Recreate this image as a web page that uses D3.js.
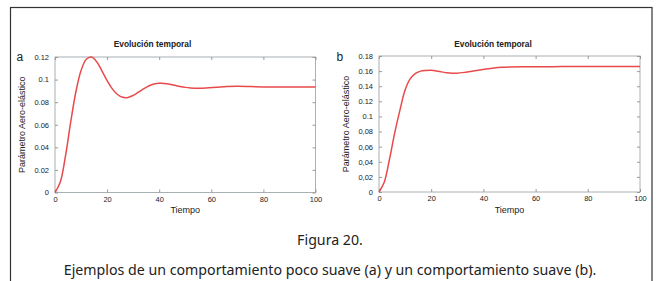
<!DOCTYPE html>
<html>
<head>
<meta charset="utf-8">
<script src="https://cdn.jsdelivr.net/npm/d3@7"></script>
<style>
  body { margin: 0; background: #fff; }
  svg { display: block; }
  .tick text { font-family: "Liberation Sans", Arial, sans-serif; font-size: 7.5px; fill: #222; }
  .tick line { stroke: #999; }
</style>
</head>
<body>
<svg width="659" height="281"></svg>
<script>
// panel a: poco suave
var tiempoA = [0, 2, 4, 6, 8, 10, 12, 14, 16, 18, 20, 22, 24, 26, 28, 30, 32, 34, 36, 38, 40, 42, 44, 46, 48, 50, 52, 55, 58, 62, 66, 70, 75, 80, 90, 100];
var valoresA = [0, 0.009, 0.032, 0.062, 0.089, 0.108, 0.118, 0.120, 0.1158, 0.1078, 0.0990, 0.0918, 0.0868, 0.0843, 0.0842, 0.0860, 0.0888, 0.0918, 0.0943, 0.0960, 0.0967, 0.0966, 0.0959, 0.0949, 0.0939, 0.0931, 0.0926, 0.0924, 0.0926, 0.0932, 0.0938, 0.0940, 0.0938, 0.0935, 0.0934, 0.0935];
// panel b: suave
var tiempoB = [0, 2, 4, 6, 8, 10, 12, 14, 16, 18, 20, 22, 24, 26, 28, 30, 32, 35, 38, 41, 44, 47, 50, 55, 60, 70, 80, 90, 100];
var valoresB = [0, 0.013, 0.043, 0.078, 0.108, 0.135, 0.150, 0.1570, 0.1600, 0.1608, 0.1610, 0.1603, 0.1590, 0.1578, 0.1572, 0.1573, 0.1580, 0.1595, 0.1612, 0.1628, 0.1642, 0.1652, 0.1656, 0.1658, 0.1658, 0.1660, 0.1662, 0.1662, 0.1662];

var xTicks = [0, 20, 40, 60, 80, 100];
var yTicksA = [0, 0.02, 0.04, 0.06, 0.08, 0.1, 0.12];
var yLabelsA = ["0", "0.02", "0.04", "0.06", "0.08", "0.1", "0.12"];
var yTicksB = [0, 0.02, 0.04, 0.06, 0.08, 0.1, 0.12, 0.14, 0.16, 0.18];
var yLabelsB = ["0", "0,02", "0,04", "0,06", "0,08", "0.1", "0.12", "0.14", "0.16", "0.18"];

var svg = d3.select("svg");

// outer frame (open at bottom, runs off the picture)
svg.append("rect")
   .attr("x", 10.5).attr("y", 7.5)
   .attr("width", 641.5).attr("height", 300)
   .attr("fill", "none").attr("stroke", "#333").attr("stroke-width", 1.2);

function panel(letra, tiempo, valores, yTicks, yLabels, xr, yr, yMax, titleX, letterX, ylabX) {
  var x = d3.scaleLinear().domain([0, 100]).range(xr);
  var y = d3.scaleLinear().domain([0, yMax]).range(yr);
  var g = svg.append("g");

  g.append("rect")
   .attr("x", xr[0]).attr("y", yr[1])
   .attr("width", xr[1] - xr[0]).attr("height", yr[0] - yr[1])
   .attr("fill", "#fff").attr("stroke", "#a9b0b3").attr("stroke-width", 1);

  var fmt = function(d) { return yLabels[yTicks.indexOf(d)]; };

  g.append("g").attr("transform", "translate(0," + yr[0] + ")")
   .call(d3.axisBottom(x).tickValues(xTicks).tickSize(-3).tickPadding(4).tickFormat(d3.format("d")));
  g.append("g").attr("transform", "translate(0," + yr[1] + ")")
   .call(d3.axisTop(x).tickValues(xTicks).tickSize(-3).tickFormat(""));
  g.append("g").attr("transform", "translate(" + xr[0] + ",0)")
   .call(d3.axisLeft(y).tickValues(yTicks).tickSize(-3).tickPadding(6).tickFormat(fmt));
  g.append("g").attr("transform", "translate(" + xr[1] + ",0)")
   .call(d3.axisRight(y).tickValues(yTicks).tickSize(-3).tickFormat(""));
  g.selectAll(".domain").remove();

  var line = d3.line()
    .x(function(d, i) { return x(tiempo[i]); })
    .y(function(d) { return y(d); })
    .curve(d3.curveCatmullRom);

  g.append("path")
   .datum(valores)
   .attr("d", line)
   .attr("fill", "none")
   .attr("stroke", "#e84a4c")
   .attr("stroke-width", 1.5);

  g.append("text")
   .attr("x", titleX).attr("y", 47)
   .attr("text-anchor", "middle")
   .style("font", "bold 8.4px 'Liberation Sans', Arial, sans-serif")
   .attr("fill", "#222")
   .text("Evolución temporal");

  g.append("text")
   .attr("x", letterX).attr("y", 61)
   .style("font", "12px 'Liberation Sans', Arial, sans-serif")
   .attr("fill", "#222")
   .text(letra);

  g.append("text")
   .attr("x", (xr[0] + xr[1]) / 2).attr("y", 213)
   .attr("text-anchor", "middle")
   .style("font", "9px 'Liberation Sans', Arial, sans-serif")
   .attr("fill", "#222")
   .text("Tiempo");

  g.append("text")
   .attr("transform", "translate(" + ylabX + "," + ((yr[0] + yr[1]) / 2) + ") rotate(-90)")
   .attr("text-anchor", "middle")
   .style("font", "9px 'Liberation Sans', Arial, sans-serif")
   .attr("fill", "#222")
   .text("Parámetro Aero-elástico");
}

panel("a", tiempoA, valoresA, yTicksA, yLabelsA, [55, 315.5], [192.5, 57], 0.12, 152.5, 16.5, 25);
panel("b", tiempoB, valoresB, yTicksB, yLabelsB, [379, 640], [192, 56], 0.18, 493, 336.5, 348.5);

svg.append("text")
   .attr("x", 330).attr("y", 245)
   .attr("text-anchor", "middle")
   .style("font", "14.2px 'Noto Sans', sans-serif")
   .attr("fill", "#222")
   .text("Figura 20.");

svg.append("text")
   .attr("x", 330).attr("y", 275)
   .attr("text-anchor", "middle")
   .style("font", "14.2px 'Noto Sans', sans-serif")
   .attr("fill", "#222")
   .text("Ejemplos de un comportamiento poco suave (a) y un comportamiento suave (b).");
</script>
</body>
</html>
